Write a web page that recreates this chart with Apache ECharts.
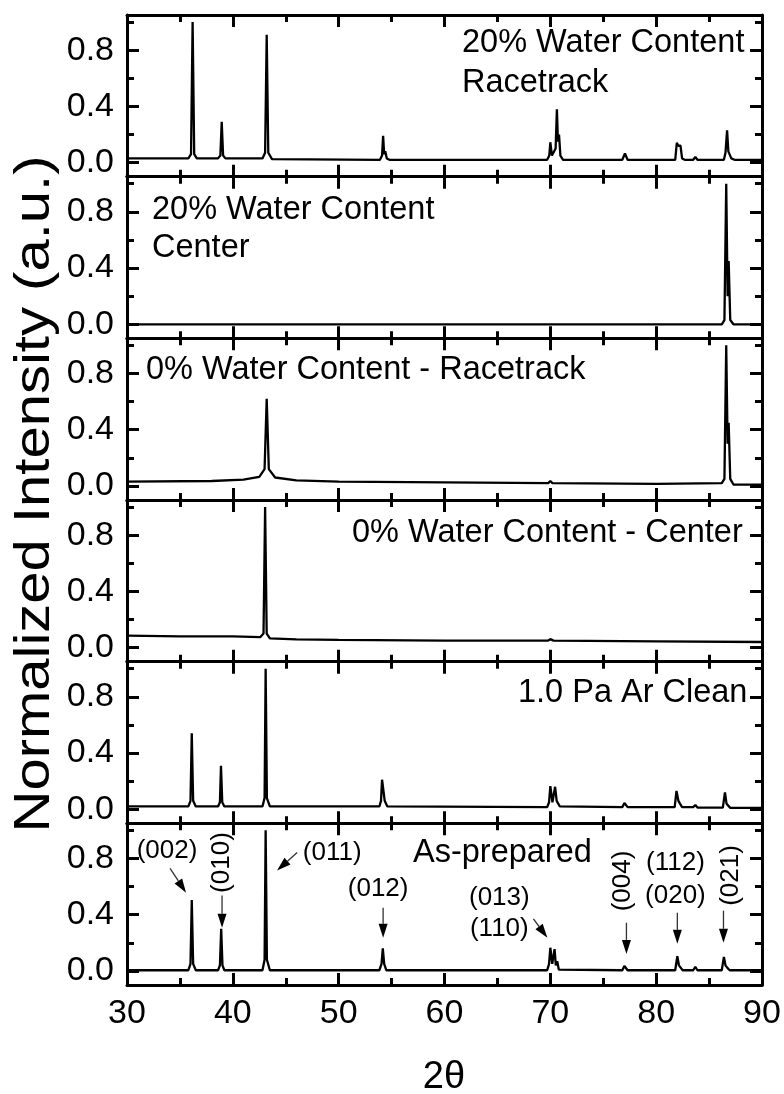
<!DOCTYPE html>
<html><head><meta charset="utf-8">
<script src="https://cdn.jsdelivr.net/npm/echarts@6/dist/echarts.min.js"></script>
<style>html,body{margin:0;padding:0;background:#fff}#c{width:784px;height:1094px}</style>
</head><body><div id="c"></div>
<script>
const FONT = '"Liberation Sans", Arial, Helvetica, sans-serif';
const xMajorTicks = [30, 40, 50, 60, 70, 80, 90];
const yMajorTicks = [0.0, 0.4, 0.8];
const yMinorTicks = [0.2, 0.6, 1.0];
const xTitle = '2\u03b8';
const yTitle = 'Normalized Intensity (a.u.)';
const panelLabels = [
  ['20% Water Content', 'Racetrack'],
  ['20% Water Content', 'Center'],
  ['0% Water Content - Racetrack'],
  ['0% Water Content - Center'],
  ['1.0 Pa Ar Clean'],
  ['As-prepared']
];
// [2theta, normalized intensity]
const water20Racetrack = [[30,0.03],[35.8,0.03],[36.05,0.06],[36.2,1.0],[36.35,0.06],[36.6,0.03],[38.6,0.03],[38.82,0.05],[38.95,0.29],[39.08,0.05],[39.3,0.03],[42.8,0.03],[43.05,0.07],[43.2,0.91],[43.35,0.07],[43.7,0.025],[53.9,0.02],[54.1,0.05],[54.2,0.19],[54.3,0.06],[54.4,0.08],[54.55,0.03],[54.8,0.02],[69.7,0.02],[69.9,0.05],[70.0,0.145],[70.15,0.05],[70.3,0.06],[70.5,0.1],[70.62,0.38],[70.72,0.15],[70.82,0.2],[70.95,0.05],[71.2,0.02],[76.8,0.02],[77.05,0.065],[77.3,0.02],[81.8,0.02],[81.95,0.14],[82.1,0.12],[82.3,0.12],[82.45,0.03],[82.7,0.02],[83.5,0.02],[83.7,0.04],[83.9,0.02],[86.4,0.02],[86.55,0.07],[86.7,0.23],[86.82,0.08],[86.95,0.09],[87.1,0.03],[87.4,0.02],[90,0.02]];
const water20Center = [[30,0.0],[86.2,0.0],[86.45,0.03],[86.62,1.0],[86.75,0.2],[86.85,0.45],[87.0,0.03],[87.3,0.0],[90,0.0]];
const water0Racetrack = [[30,0.03],[38,0.035],[41,0.045],[42.5,0.065],[43.0,0.12],[43.2,0.62],[43.4,0.12],[44,0.06],[46,0.04],[50,0.03],[60,0.025],[69.8,0.02],[70.0,0.035],[70.2,0.02],[80,0.015],[86.2,0.02],[86.45,0.05],[86.62,1.0],[86.75,0.3],[86.85,0.45],[87.0,0.05],[87.3,0.01],[90,0.01]];
const water0Center = [[30,0.085],[35,0.08],[40,0.08],[42.6,0.075],[42.9,0.1],[43.05,1.0],[43.2,0.1],[43.5,0.065],[46,0.058],[50,0.055],[60,0.05],[69.8,0.05],[70.0,0.06],[70.3,0.05],[80,0.045],[90,0.04]];
const arClean = [[30,0.02],[35.8,0.02],[36.0,0.06],[36.12,0.54],[36.25,0.06],[36.5,0.02],[38.6,0.02],[38.78,0.05],[38.88,0.31],[39.0,0.05],[39.2,0.02],[42.8,0.02],[43.0,0.08],[43.1,1.0],[43.22,0.08],[43.5,0.02],[53.85,0.02],[54.0,0.06],[54.1,0.21],[54.25,0.2],[54.35,0.06],[54.6,0.02],[69.7,0.015],[69.88,0.05],[70.0,0.165],[70.2,0.05],[70.45,0.16],[70.6,0.06],[70.75,0.06],[70.9,0.02],[76.8,0.015],[77.0,0.045],[77.3,0.015],[81.75,0.015],[81.92,0.13],[82.1,0.06],[82.25,0.04],[82.45,0.015],[83.5,0.015],[83.7,0.03],[83.9,0.012],[86.3,0.012],[86.5,0.12],[86.65,0.04],[86.8,0.035],[87.0,0.01],[90,0.01]];
const asPrepared = [[30,0.005],[35.8,0.005],[36.0,0.05],[36.12,0.505],[36.25,0.05],[36.5,0.005],[38.6,0.005],[38.78,0.04],[38.9,0.3],[39.02,0.04],[39.2,0.005],[42.8,0.005],[43.0,0.08],[43.1,1.0],[43.22,0.08],[43.5,0.005],[53.85,0.005],[54.05,0.05],[54.17,0.16],[54.3,0.05],[54.5,0.005],[69.7,0.005],[69.88,0.05],[70.0,0.165],[70.18,0.05],[70.4,0.155],[70.52,0.04],[70.65,0.07],[70.8,0.01],[76.8,0.005],[77.0,0.035],[77.3,0.005],[81.8,0.005],[82.0,0.105],[82.15,0.04],[82.35,0.02],[82.5,0.005],[83.5,0.005],[83.7,0.03],[83.9,0.005],[86.2,0.005],[86.4,0.1],[86.55,0.04],[86.75,0.02],[86.95,0.005],[90,0.005]];
const panelData = [water20Racetrack, water20Center, water0Racetrack, water0Center, arClean, asPrepared];
// Miller index annotations in As-prepared panel: [text, 2theta, intensity, vertical]
const hklLabels = [['(002)',33.78,0.857,false],['(010)',38.98,0.771,true],['(011)',49.39,0.843,false],['(012)',53.73,0.586,false],['(013)',65.18,0.521,false],['(110)',65.18,0.30,false],['(004)',76.85,0.64,true],['(112)',81.82,0.771,false],['(020)',81.82,0.536,false],['(021)',87.02,0.679,true]];
// arrows: [from2theta, fromI, to2theta, toI]
const hklArrows = [[34.07,0.729,35.58,0.557],[38.98,0.536,38.98,0.307],[46.08,0.843,44.18,0.714],[54.2,0.45,54.2,0.236],[68.4,0.371,69.72,0.236],[77.19,0.343,77.19,0.121],[82.0,0.414,82.0,0.193],[86.36,0.429,86.36,0.20]];

const N = 6, TOP = 15, BOTTOM = 985, LEFT = 127, RIGHT = 762;
const PH = (BOTTOM - TOP) / N;
const black = '#000';
const grids = [], xAxes = [], yAxes = [], series = [];
for (let i = 0; i < N; i++) {
  grids.push({left: LEFT, width: RIGHT - LEFT, top: TOP + i * PH, height: PH, containLabel: false});
  ['bottom', 'top'].forEach(pos => {
    xAxes.push({
      gridIndex: i, type: 'value', position: pos, min: 30, max: 90, interval: 10,
      axisLine: {show: true, onZero: false, lineStyle: {color: black, width: 3}},
      axisTick: {show: true, inside: true, length: 12, lineStyle: {color: black, width: 3}},
      minorTick: {show: true, splitNumber: 2, length: 7, lineStyle: {color: black, width: 3}},
      axisLabel: {show: pos === 'bottom' && i === N - 1, color: black, fontSize: 34, fontFamily: FONT, margin: 12},
      splitLine: {show: false}
    });
  });
  ['left', 'right'].forEach(pos => {
    yAxes.push({
      gridIndex: i, type: 'value', position: pos, min: -0.1, max: 1.05,
      axisLine: {show: true, onZero: false, lineStyle: {color: black, width: 3}},
      axisTick: {show: true, inside: true, length: 12, customValues: yMajorTicks, lineStyle: {color: black, width: 3}},
      axisLabel: {show: pos === 'left', customValues: yMajorTicks, formatter: v => v.toFixed(1), color: black, fontSize: 34, fontFamily: FONT, margin: 13},
      splitLine: {show: false}
    });
    yAxes.push({
      gridIndex: i, type: 'value', position: pos, min: -0.1, max: 1.05,
      axisLine: {show: false},
      axisTick: {show: true, inside: true, length: 7, customValues: yMinorTicks, lineStyle: {color: black, width: 3}},
      axisLabel: {show: false},
      splitLine: {show: false}
    });
  });
  series.push({
    type: 'line', xAxisIndex: 2 * i, yAxisIndex: 4 * i, data: panelData[i],
    showSymbol: false, symbol: 'none', lineStyle: {color: black, width: 2.3}, silent: true, z: 5
  });
}

const chart = echarts.init(document.getElementById('c'), null, {renderer: 'canvas'});
chart.setOption({
  animation: false, backgroundColor: '#fff',
  grid: grids, xAxis: xAxes, yAxis: yAxes, series: series
});

const g = [];
// axis titles
g.push({type: 'text', x: 35, y: 494, rotation: Math.PI / 2, scaleX: 1.16,
  style: {text: yTitle, fill: black, font: '50px ' + FONT, align: 'center', verticalAlign: 'middle'}});
g.push({type: 'text', x: 444, y: 1078,
  style: {text: xTitle, fill: black, font: '38px ' + FONT, align: 'center', verticalAlign: 'middle'}});
// panel labels (position inside each panel)
const labelPos = [[462, 43, 40], [152, 210, 38], [146, 370, 0], [352, 533, 0], [518, 693, 0], [413, 853, 0]];
panelLabels.forEach((lines, i) => {
  lines.forEach((t, k) => {
    g.push({type: 'text', x: labelPos[i][0], y: labelPos[i][1] + k * labelPos[i][2],
      style: {text: t, fill: black, font: '32.5px ' + FONT, align: 'left', verticalAlign: 'middle'}, z: 10});
  });
});
// hkl annotations, positioned through the last panel's scales
const finder = {xAxisIndex: 2 * (N - 1), yAxisIndex: 4 * (N - 1)};
hklLabels.forEach(([t, x, y, vert]) => {
  const p = chart.convertToPixel(finder, [x, y]);
  g.push({type: 'text', x: p[0], y: p[1], rotation: vert ? Math.PI / 2 : 0,
    style: {text: t, fill: black, font: '26px ' + FONT, align: 'center', verticalAlign: 'middle'}, z: 10});
});
hklArrows.forEach(([x1, y1, x2, y2]) => {
  const a = chart.convertToPixel(finder, [x1, y1]);
  const b = chart.convertToPixel(finder, [x2, y2]);
  const dx = b[0] - a[0], dy = b[1] - a[1];
  const len = Math.sqrt(dx * dx + dy * dy);
  const ux = dx / len, uy = dy / len;
  const hl = 14, hw = 4.5;
  const bx = b[0] - ux * hl, by = b[1] - uy * hl;
  g.push({type: 'line', shape: {x1: a[0], y1: a[1], x2: bx, y2: by}, style: {stroke: '#333', lineWidth: 1.3}, z: 10});
  g.push({type: 'polygon', shape: {points: [[b[0], b[1]], [bx - uy * hw, by + ux * hw], [bx + uy * hw, by - ux * hw]]},
    style: {fill: black}, z: 10});
});
chart.setOption({graphic: g});
</script>
</body></html>
